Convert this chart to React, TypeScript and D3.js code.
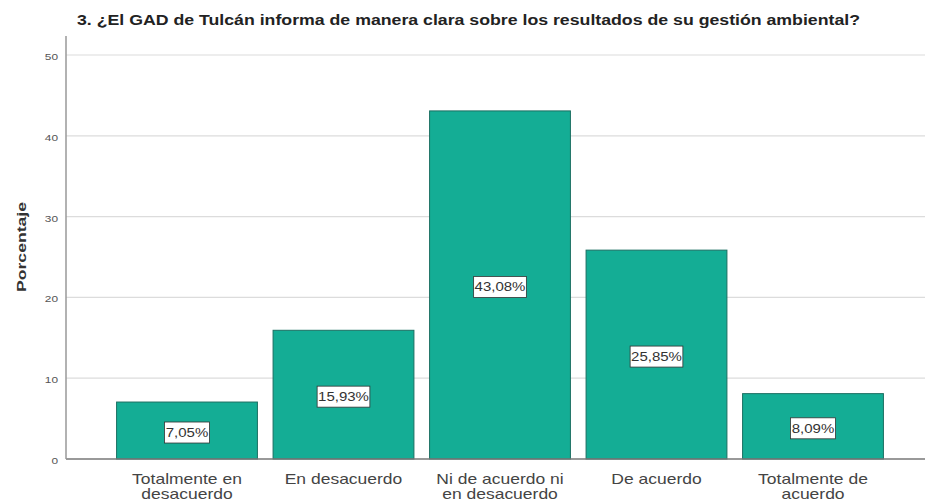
import React from "react";
import * as d3 from "d3";

const title = "3. ¿El GAD de Tulcán informa de manera clara sobre los resultados de su gestión ambiental?";
const categories: string[][] = [
  ["Totalmente en", "desacuerdo"],
  ["En desacuerdo"],
  ["Ni de acuerdo ni", "en desacuerdo"],
  ["De acuerdo"],
  ["Totalmente de", "acuerdo"],
];
const values: number[] = [7.05, 15.93, 43.08, 25.85, 8.09];
const valueLabels: string[] = ["7,05%", "15,93%", "43,08%", "25,85%", "8,09%"];
const yTicks: number[] = [0, 10, 20, 30, 40, 50];
const yLabel = "Porcentaje";

const W = 925;
const H = 504;
const plotLeft = 66;
const plotRight = 925;
const plotTop = 36;
const SX = 1.25;

export default function App() {
  const y = d3.scaleLinear().domain([0, 50]).range([459, 55]);
  const x = d3
    .scaleBand<number>()
    .domain(values.map((_, i) => i))
    .range([108.75, 891.25])
    .paddingInner(0.1)
    .paddingOuter(0.05);
  const font = "Arial, 'Liberation Sans', sans-serif";
  return (
    <svg
      width={W}
      height={H}
      style={{ position: "absolute", left: 0, top: 0, background: "#fff" }}
      fontFamily={font}
    >
      <rect x={0} y={0} width={W} height={H} fill="#fff" />
      <text
        x={77}
        y={25}
        fontSize={14.5}
        fontWeight="bold"
        fill="#222"
        textLength={783}
        lengthAdjust="spacingAndGlyphs"
      >
        {title}
      </text>
      {yTicks.map((t) => (
        <g key={t}>
          {t > 0 && (
            <line x1={plotLeft} x2={plotRight} y1={y(t)} y2={y(t)} stroke="#dcdcdc" strokeWidth={1.2} />
          )}
          <g transform={`translate(58,${y(t) + 5}) scale(${SX},1)`}>
            <text x={0} y={0} fontSize={9.5} fill="#555" textAnchor="end">
              {t}
            </text>
          </g>
        </g>
      ))}
      <text
        transform={`translate(26,247) rotate(-90)`}
        fontSize={13.5}
        fontWeight="bold"
        fill="#333"
        textAnchor="middle"
        textLength={90}
        lengthAdjust="spacingAndGlyphs"
      >
        {yLabel}
      </text>
      {values.map((v, i) => {
        const bx = x(i)!;
        const bw = x.bandwidth();
        const cx = bx + bw / 2;
        const cy = (y(v) + y(0)) / 2 + 2;
        const label = valueLabels[i];
        const lw = (label.length * 6.2 + 5) * SX;
        return (
          <g key={i}>
            <rect x={bx} y={y(v)} width={bw} height={y(0) - y(v)} fill="#14ad95" stroke="#1b6f62" strokeWidth={1} />
            <rect x={cx - lw / 2} y={cy - 10.5} width={lw} height={21} fill="#fff" stroke="#333" strokeWidth={0.8} />
            <g transform={`translate(${cx},${cy + 4.5}) scale(${SX},1)`}>
              <text x={0} y={0} fontSize={12} fill="#333" textAnchor="middle">
                {label}
              </text>
            </g>
            {categories[i].map((line, j) => (
              <g key={j} transform={`translate(${cx},${484 + j * 15}) scale(${SX},1)`}>
                <text x={0} y={0} fontSize={14} fill="#444" textAnchor="middle">
                  {line}
                </text>
              </g>
            ))}
          </g>
        );
      })}
      <line x1={plotLeft} x2={plotRight} y1={y(0)} y2={y(0)} stroke="#777" strokeWidth={1.5} />
      <line x1={plotLeft} x2={plotLeft} y1={plotTop} y2={y(0)} stroke="#999" strokeWidth={1.5} />
    </svg>
  );
}
